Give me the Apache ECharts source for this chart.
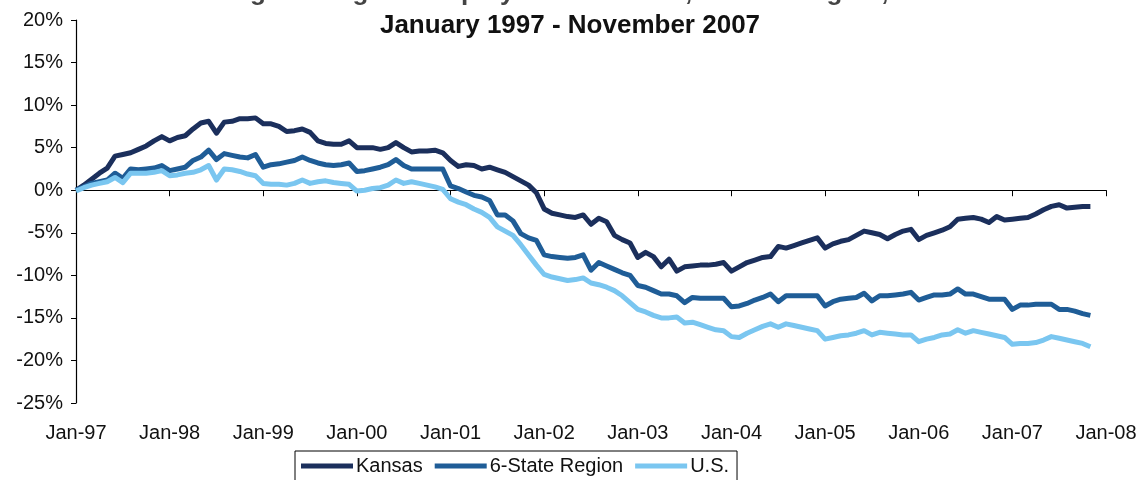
<!DOCTYPE html>
<html>
<head>
<meta charset="utf-8">
<title>Employment change: Kansas, 6-State Region, U.S.</title>
<script src="https://cdn.jsdelivr.net/npm/echarts@6/dist/echarts.min.js"></script>
<style>
  html, body { margin: 0; padding: 0; background: #fff; }
  #chart { width: 1140px; height: 480px; }
</style>
</head>
<body>
<div id="chart"></div>
<script>
// month categories Jan-97 .. Jan-08 (axis runs one step past the last data point)
const monthNames = ['Jan', 'Feb', 'Mar', 'Apr', 'May', 'Jun', 'Jul', 'Aug', 'Sep', 'Oct', 'Nov', 'Dec'];
const yearLabels = ['97', '98', '99', '00', '01', '02', '03', '04', '05', '06', '07', '08'];
const categories = [];
yearLabels.forEach((yr, i) => {
  monthNames.forEach((m, j) => {
    if (i < yearLabels.length - 1 || j === 0) categories.push(m + '-' + yr);
  });
});

const seriesNames = ['Kansas', '6-State Region', 'U.S.'];
const yTicks = [-25, -20, -15, -10, -5, 0, 5, 10, 15, 20];

// percent change since Jan 1997, monthly, Jan-97 .. Nov-07
const kansas = [
  0.0, 0.6, 1.3, 2.0, 2.6, 4.0, 4.2, 4.4, 4.8, 5.2, 5.8, 6.3,
  5.8, 6.2, 6.4, 7.2, 7.9, 8.1, 6.7, 8.0, 8.1, 8.4, 8.4, 8.5,
  7.8, 7.8, 7.5, 6.9, 7.0, 7.2, 6.8, 5.8, 5.5, 5.4, 5.4, 5.8,
  5.0, 5.0, 5.0, 4.8, 5.0, 5.6, 5.0, 4.5, 4.6, 4.6, 4.7, 4.4,
  3.5, 2.8, 3.0, 2.9, 2.5, 2.7, 2.4, 2.1, 1.6, 1.1, 0.6, -0.3,
  -2.2, -2.7, -2.9, -3.1, -3.2, -2.9, -4.0, -3.3, -3.7, -5.3, -5.8, -6.2,
  -7.9, -7.3, -7.8, -9.0, -8.1, -9.5, -9.0, -8.9, -8.8, -8.8, -8.7, -8.5,
  -9.5, -9.0, -8.5, -8.2, -7.9, -7.8, -6.6, -6.8, -6.5, -6.2, -5.9, -5.6,
  -6.8, -6.3, -6.0, -5.8, -5.3, -4.8, -5.0, -5.2, -5.7, -5.2, -4.8, -4.6,
  -5.8, -5.3, -5.0, -4.7, -4.3, -3.4, -3.3, -3.2, -3.4, -3.8, -3.1, -3.5,
  -3.4, -3.3, -3.2, -2.8, -2.3, -1.9, -1.7, -2.1, -2.0, -1.9, -1.9
];
const sixState = [
  0.0, 0.4, 0.8, 1.0, 1.2, 2.0, 1.4, 2.5, 2.4, 2.5, 2.6, 2.9,
  2.3, 2.5, 2.7, 3.5, 3.9, 4.7, 3.6, 4.3, 4.1, 3.9, 3.8, 4.2,
  2.7, 3.0, 3.1, 3.3, 3.5, 3.9, 3.5, 3.2, 3.0, 2.9, 3.0, 3.2,
  2.2, 2.3, 2.5, 2.7, 3.0, 3.6, 2.9, 2.5, 2.5, 2.5, 2.5, 2.5,
  0.5, 0.2, -0.2, -0.6, -0.8, -1.2, -2.9, -2.9, -3.6, -5.1, -5.6, -5.9,
  -7.6, -7.8, -7.9, -8.0, -7.9, -7.6, -9.4, -8.5, -8.9, -9.3, -9.7, -10.0,
  -11.2, -11.4, -11.8, -12.2, -12.2, -12.4, -13.2, -12.6, -12.7, -12.7, -12.7, -12.7,
  -13.7, -13.6, -13.3, -12.9, -12.6, -12.2, -13.1, -12.4, -12.4, -12.4, -12.4, -12.4,
  -13.6, -13.1, -12.8, -12.7, -12.6, -12.1, -13.0, -12.4, -12.4, -12.3, -12.2, -12.0,
  -12.9, -12.6, -12.3, -12.3, -12.2, -11.6, -12.2, -12.2, -12.5, -12.8, -12.8, -12.8,
  -14.0, -13.5, -13.5, -13.4, -13.4, -13.4, -14.0, -14.0, -14.2, -14.5, -14.7
];
const us = [
  -0.1, 0.3, 0.6, 0.8, 1.0, 1.5, 0.9, 2.0, 2.0, 2.0, 2.1, 2.3,
  1.7, 1.8, 2.0, 2.1, 2.4, 2.9, 1.2, 2.5, 2.4, 2.2, 1.9, 1.7,
  0.8, 0.7, 0.7, 0.6, 0.8, 1.2, 0.8, 1.0, 1.1, 0.9, 0.8, 0.7,
  -0.1, 0.0, 0.2, 0.3, 0.6, 1.2, 0.8, 1.0, 0.8, 0.6, 0.4, 0.1,
  -1.0, -1.4, -1.7, -2.2, -2.6, -3.2, -4.3, -4.8, -5.3, -6.4, -7.6, -8.8,
  -9.9, -10.2, -10.4, -10.6, -10.5, -10.3, -10.9, -11.1, -11.4, -11.8, -12.4, -13.2,
  -14.0, -14.3, -14.7, -15.0, -15.0, -14.9, -15.6, -15.5, -15.8, -16.1, -16.4, -16.5,
  -17.2, -17.3, -16.8, -16.4, -16.0, -15.7, -16.1, -15.7, -15.9, -16.1, -16.3, -16.5,
  -17.5, -17.3, -17.1, -17.0, -16.8, -16.5, -17.0, -16.7, -16.8, -16.9, -17.0, -17.0,
  -17.8, -17.5, -17.3, -17.0, -16.9, -16.4, -16.8, -16.5, -16.7, -16.9, -17.1, -17.3,
  -18.1, -18.0, -18.0, -17.9, -17.6, -17.2, -17.4, -17.6, -17.8, -18.0, -18.4
];

const colors = ['#1b2f5c', '#1f5d97', '#7ac6f0'];
const font = "'Liberation Sans', Arial, sans-serif";

const chart = echarts.init(document.getElementById('chart'));

const lineSeries = (name, data, color) => ({
  name: name,
  type: 'line',
  xAxisIndex: 0,
  data: data,
  showSymbol: false,
  symbol: 'none',
  lineStyle: { width: 5, color: color, join: 'round' },
  itemStyle: { color: color },
});

chart.setOption({
  animation: false,
  textStyle: { fontFamily: font, color: '#111' },
  title: [
    {
      // top line of the title is cut off in the original scan
      text: 'Percentage Change in Employment: Kansas, 6-State Region, and U.S.',
      left: 'center', top: -25,
      textStyle: { fontFamily: font, fontSize: 26, fontWeight: 'bold', color: '#444' },
    },
    {
      text: 'January 1997 - November 2007',
      left: 'center', top: 8,
      textStyle: { fontFamily: font, fontSize: 26, fontWeight: 'bold', color: '#111' },
    },
  ],
  legend: {
    data: seriesNames,
    left: 295, top: 451,
    orient: 'horizontal',
    icon: 'rect',
    itemWidth: 52, itemHeight: 5, itemGap: 12,
    padding: [5, 8, 10, 6],
    borderColor: '#000', borderWidth: 1,
    textStyle: { fontFamily: font, fontSize: 20, color: '#111', padding: [0, 0, 0, -2] },
  },
  grid: { left: 76, right: 34, top: 20, bottom: 77, containLabel: false },
  xAxis: [
    {
      type: 'category',
      data: categories,
      boundaryGap: false,
      axisLine: { onZero: true, lineStyle: { color: '#000', width: 1.2 } },
      axisTick: { show: true, interval: 11, length: 6, lineStyle: { color: '#000' } },
      axisLabel: { show: false },
      splitLine: { show: false },
    },
    {
      type: 'category',
      data: categories,
      boundaryGap: false,
      position: 'bottom',
      axisLine: { show: false, onZero: false },
      axisTick: { show: false },
      axisLabel: { interval: 11, margin: 20, fontSize: 20, fontFamily: font, color: '#111' },
      splitLine: { show: false },
    },
  ],
  yAxis: {
    type: 'value',
    min: yTicks[0],
    max: yTicks[yTicks.length - 1],
    interval: 5,
    axisLine: { show: true, lineStyle: { color: '#000', width: 1.2 } },
    axisTick: { show: true, length: 5, lineStyle: { color: '#000' } },
    axisLabel: { formatter: '{value}%', fontSize: 20, margin: 13, fontFamily: font, color: '#111' },
    splitLine: { show: false },
  },
  series: [
    lineSeries(seriesNames[0], kansas, colors[0]),
    lineSeries(seriesNames[1], sixState, colors[1]),
    lineSeries(seriesNames[2], us, colors[2]),
  ],
});
</script>
</body>
</html>
